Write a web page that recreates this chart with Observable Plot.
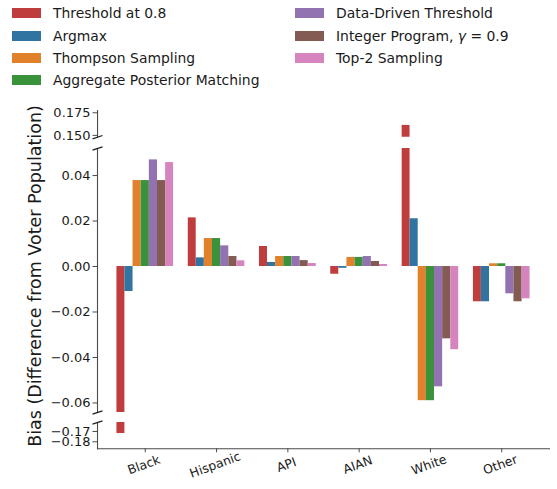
<!DOCTYPE html>
<html>
<head>
<meta charset="utf-8">
<script src="https://cdn.jsdelivr.net/npm/d3@7"></script>
<script src="https://cdn.jsdelivr.net/npm/@observablehq/plot@0.6"></script>
<style>
  body { margin: 0; background: #fff; font-family: "DejaVu Sans", sans-serif; }
  #chart { position: relative; width: 557px; height: 489px; overflow: hidden; background: #fff; }
  #chart svg { position: absolute; left: 0; }
  .legend-item { position: absolute; display: flex; align-items: center; height: 22px;
    font-size: 13.9px; color: #1a1a1a; white-space: nowrap; }
  .swatch { width: 29px; height: 10px; margin-right: 12px; flex: none; }
  #ylabel { position: absolute; left: 35px; top: 276px; transform: translate(-50%, -50%) rotate(-90deg);
    font-size: 17.5px; color: #1a1a1a; white-space: nowrap; }
</style>
</head>
<body>
<div id="chart"></div>
<script>
// Racial groups along the x axis
const categories = ["Black", "Hispanic", "API", "AIAN", "White", "Other"];

// Labelling methods, one bar per group
const series = [
  "Threshold at 0.8",
  "Argmax",
  "Thompson Sampling",
  "Aggregate Posterior Matching",
  "Data-Driven Threshold",
  "Integer Program, γ = 0.9",
  "Top-2 Sampling"
];

// Bias (difference from voter population) per method, in category order
const thresholdAt08   = [-0.172, 0.0214, 0.0088, -0.0034, 0.161, -0.0155];
const argmax          = [-0.0110, 0.0038, 0.0018, -0.0008, 0.0210, -0.0155];
const thompson        = [0.0378, 0.0123, 0.0044, 0.0040, -0.0590, 0.0012];
const posteriorMatch  = [0.0378, 0.0123, 0.0044, 0.0040, -0.0590, 0.0012];
const dataDriven      = [0.0469, 0.0091, 0.0044, 0.0044, -0.0529, -0.0120];
const integerProgram  = [0.0378, 0.0044, 0.0026, 0.0022, -0.0318, -0.0155];
const top2            = [0.0457, 0.0025, 0.0013, 0.0009, -0.0366, -0.0142];
const seriesValues = [thresholdAt08, argmax, thompson, posteriorMatch, dataDriven, integerProgram, top2];

const seriesColors = ["#c03d3e", "#3274a1", "#e1812c", "#3a923a", "#9372b2", "#845b53", "#d684bd"];

// Tick values of the three stacked y ranges (broken axis)
const yTicksTop    = [0.150, 0.175];
const yTicksMiddle = [-0.06, -0.04, -0.02, 0.00, 0.02, 0.04];
const yTicksBottom = [-0.18, -0.17];

const rows = series.flatMap((s, j) =>
  seriesValues[j].map((v, i) => ({category: categories[i], series: s, value: v})));

const chart = document.getElementById("chart");

// Legend, two columns
const legendCols = [[0, 1, 2, 3], [4, 5, 6]];
legendCols.forEach((col, c) => {
  col.forEach((j, r) => {
    const item = document.createElement("div");
    item.className = "legend-item";
    item.style.left = (c === 0 ? 12 : 295) + "px";
    item.style.top = (2.3 + r * 22.2) + "px";
    const sw = document.createElement("div");
    sw.className = "swatch";
    sw.style.background = seriesColors[j];
    const label = document.createElement("span");
    label.innerHTML = series[j].replace("γ", "<i>γ</i>");
    item.append(sw, label);
    chart.append(item);
  });
});

const ylabel = document.createElement("div");
ylabel.id = "ylabel";
ylabel.textContent = "Bias (Difference from Voter Population)";
chart.append(ylabel);

const W = 557, mLeft = 97, mRight = 8;
const spine = "#4a4a4a";
const yTickFont = 13;
const xTickFont = 12.5;
const bandPad = {paddingInner: 0.2, paddingOuter: 0.27};

// Short slanted stroke marking a break in the y axis
const breakSymbol = {
  draw(context) {
    context.moveTo(-5, 1.7);
    context.lineTo(5, -1.7);
  }
};
const breakMark = (anchor) => Plot.dot({length: 1}, {
  frameAnchor: anchor, symbol: breakSymbol, r: 4, stroke: "#222", strokeWidth: 1.3, fill: "none"
});

const panels = [
  {domain: [0.148, 0.1775], ticks: yTicksTop, format: ".3f", top: 110, height: 26.7, breaks: ["bottom-left"]},
  {domain: [-0.0642, 0.0519], ticks: yTicksMiddle, format: ".2f", top: 147.7, height: 264, breaks: ["top-left", "bottom-left"]},
  {domain: [-0.1868, -0.1613], ticks: yTicksBottom, format: ".2f", top: 421.7, height: 26.3, breaks: ["top-left"], xAxis: true}
];

for (const p of panels) {
  const mt = 12, mb = p.xAxis ? 41 : 12;
  const common = {
    width: W, height: p.height + mt + mb,
    marginLeft: mLeft, marginRight: mRight, marginTop: mt, marginBottom: mb,
    style: {background: "transparent", overflow: "visible", fontFamily: "DejaVu Sans", fontSize: yTickFont + "px"}
  };

  // Grouped bars: one facet per category, one band per method
  const bars = Plot.plot({
    ...common,
    fx: {domain: categories, ...bandPad, round: false, axis: null},
    x: {domain: series, padding: 0, round: false, axis: null},
    y: {domain: p.domain, axis: null},
    color: {domain: series, range: seriesColors},
    marks: [
      Plot.barY(rows, {fx: "category", x: "series", y: "value", fill: "series", inset: 0, clip: true})
    ]
  });

  // Spines, ticks and labels for this y range
  const axes = Plot.plot({
    ...common,
    x: {type: "band", domain: categories, ...bandPad, round: false, axis: null},
    y: {domain: p.domain, axis: null},
    marks: [
      Plot.frame({anchor: "left", stroke: spine, strokeWidth: 1.1}),
      Plot.axisY({ticks: p.ticks, tickFormat: d3.format(p.format), tickSize: 4.5, tickPadding: 2.5,
        stroke: spine, fill: "#1a1a1a", fontSize: yTickFont, label: null}),
      ...p.breaks.map(breakMark),
      ...(p.xAxis ? [
        Plot.frame({anchor: "bottom", stroke: spine, strokeWidth: 1.1}),
        Plot.axisX({tickSize: 4, tickFormat: () => "", stroke: spine, label: null}),
        Plot.text(categories, {x: d => d, frameAnchor: "bottom", dy: 20, rotate: -20,
          fontSize: xTickFont, fill: "#1a1a1a"})
      ] : [])
    ]
  });

  for (const svg of [bars, axes]) {
    svg.style.top = (p.top - mt) + "px";
    chart.append(svg);
  }
}
</script>
</body>
</html>
